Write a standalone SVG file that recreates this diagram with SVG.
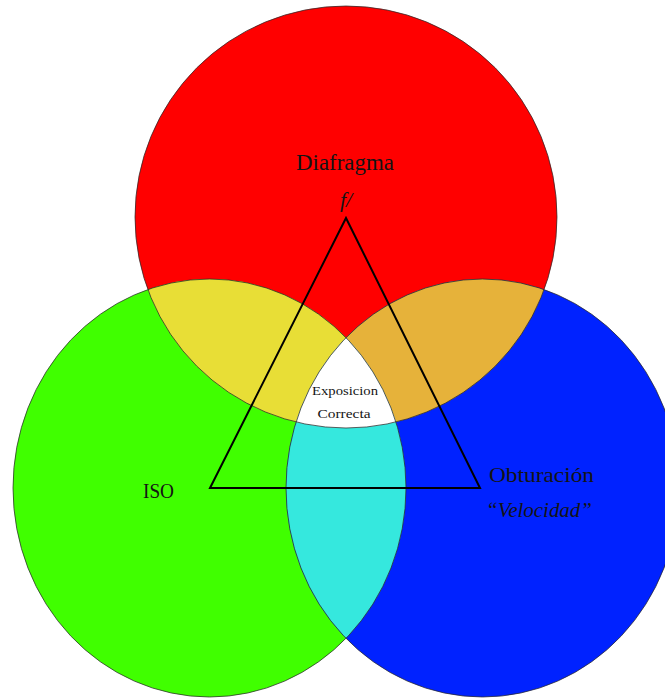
<svg xmlns="http://www.w3.org/2000/svg" width="665" height="698" viewBox="0 0 665 698">
  <style>
    .outline { fill: none; stroke: #2a2a2a; stroke-width: 1; stroke-opacity: 0.75; }
    .label { font-family: "Liberation Serif", "DejaVu Serif", serif; fill: #141414; }
    .tri { fill: none; stroke: #000; stroke-width: 2; stroke-linejoin: miter; }
  </style>
  <defs>
    <clipPath id="clipRed"><circle cx="346" cy="217" r="211"/></clipPath>
    <clipPath id="clipGreen"><ellipse cx="209.5" cy="488" rx="196.5" ry="209"/></clipPath>
  </defs>
  <rect width="665" height="698" fill="#ffffff"/>

  <g id="diafragma">
    <circle cx="346" cy="217" r="211" fill="#ff0000"/>
  </g>
  <g id="iso">
    <ellipse cx="209.5" cy="488" rx="196.5" ry="209" fill="#40ff00"/>
  </g>
  <g id="obturacion">
    <ellipse cx="482.5" cy="488" rx="196.5" ry="209" fill="#0022ff"/>
  </g>

  <g id="overlaps">
    <ellipse cx="209.5" cy="488" rx="196.5" ry="209" fill="#e8de36" clip-path="url(#clipRed)"/>
    <ellipse cx="482.5" cy="488" rx="196.5" ry="209" fill="#e6b23a" clip-path="url(#clipRed)"/>
    <ellipse cx="482.5" cy="488" rx="196.5" ry="209" fill="#35e8de" clip-path="url(#clipGreen)"/>
    <g clip-path="url(#clipRed)">
      <ellipse cx="482.5" cy="488" rx="196.5" ry="209" fill="#ffffff" clip-path="url(#clipGreen)"/>
    </g>
  </g>

  <g id="outlines">
    <circle class="outline" cx="346" cy="217" r="211"/>
    <ellipse class="outline" cx="209.5" cy="488" rx="196.5" ry="209"/>
    <ellipse class="outline" cx="482.5" cy="488" rx="196.5" ry="209"/>
  </g>

  <g id="connectors">
    <polygon class="tri" points="346,218 210,488 480,488"/>
  </g>

  <g id="labels">
    <text class="label" x="345" y="170" font-size="23" text-anchor="middle" textLength="98" lengthAdjust="spacingAndGlyphs">Diafragma</text>
    <text class="label" x="346" y="207" font-size="22" font-style="italic" text-anchor="middle">f/</text>
    <g id="exposicion">
      <text class="label" x="345" y="395" font-size="13" text-anchor="middle" textLength="66" lengthAdjust="spacingAndGlyphs">Exposicion</text>
      <text class="label" x="344" y="418" font-size="13" text-anchor="middle" textLength="53" lengthAdjust="spacingAndGlyphs">Correcta</text>
    </g>
    <text class="label" x="143" y="498" font-size="20" textLength="31" lengthAdjust="spacingAndGlyphs">ISO</text>
    <text class="label" x="489" y="482" font-size="21" textLength="105" lengthAdjust="spacingAndGlyphs">Obturación</text>
    <text class="label" x="486" y="517" font-size="21" font-style="italic" textLength="106" lengthAdjust="spacingAndGlyphs">“Velocidad”</text>
  </g>
</svg>
